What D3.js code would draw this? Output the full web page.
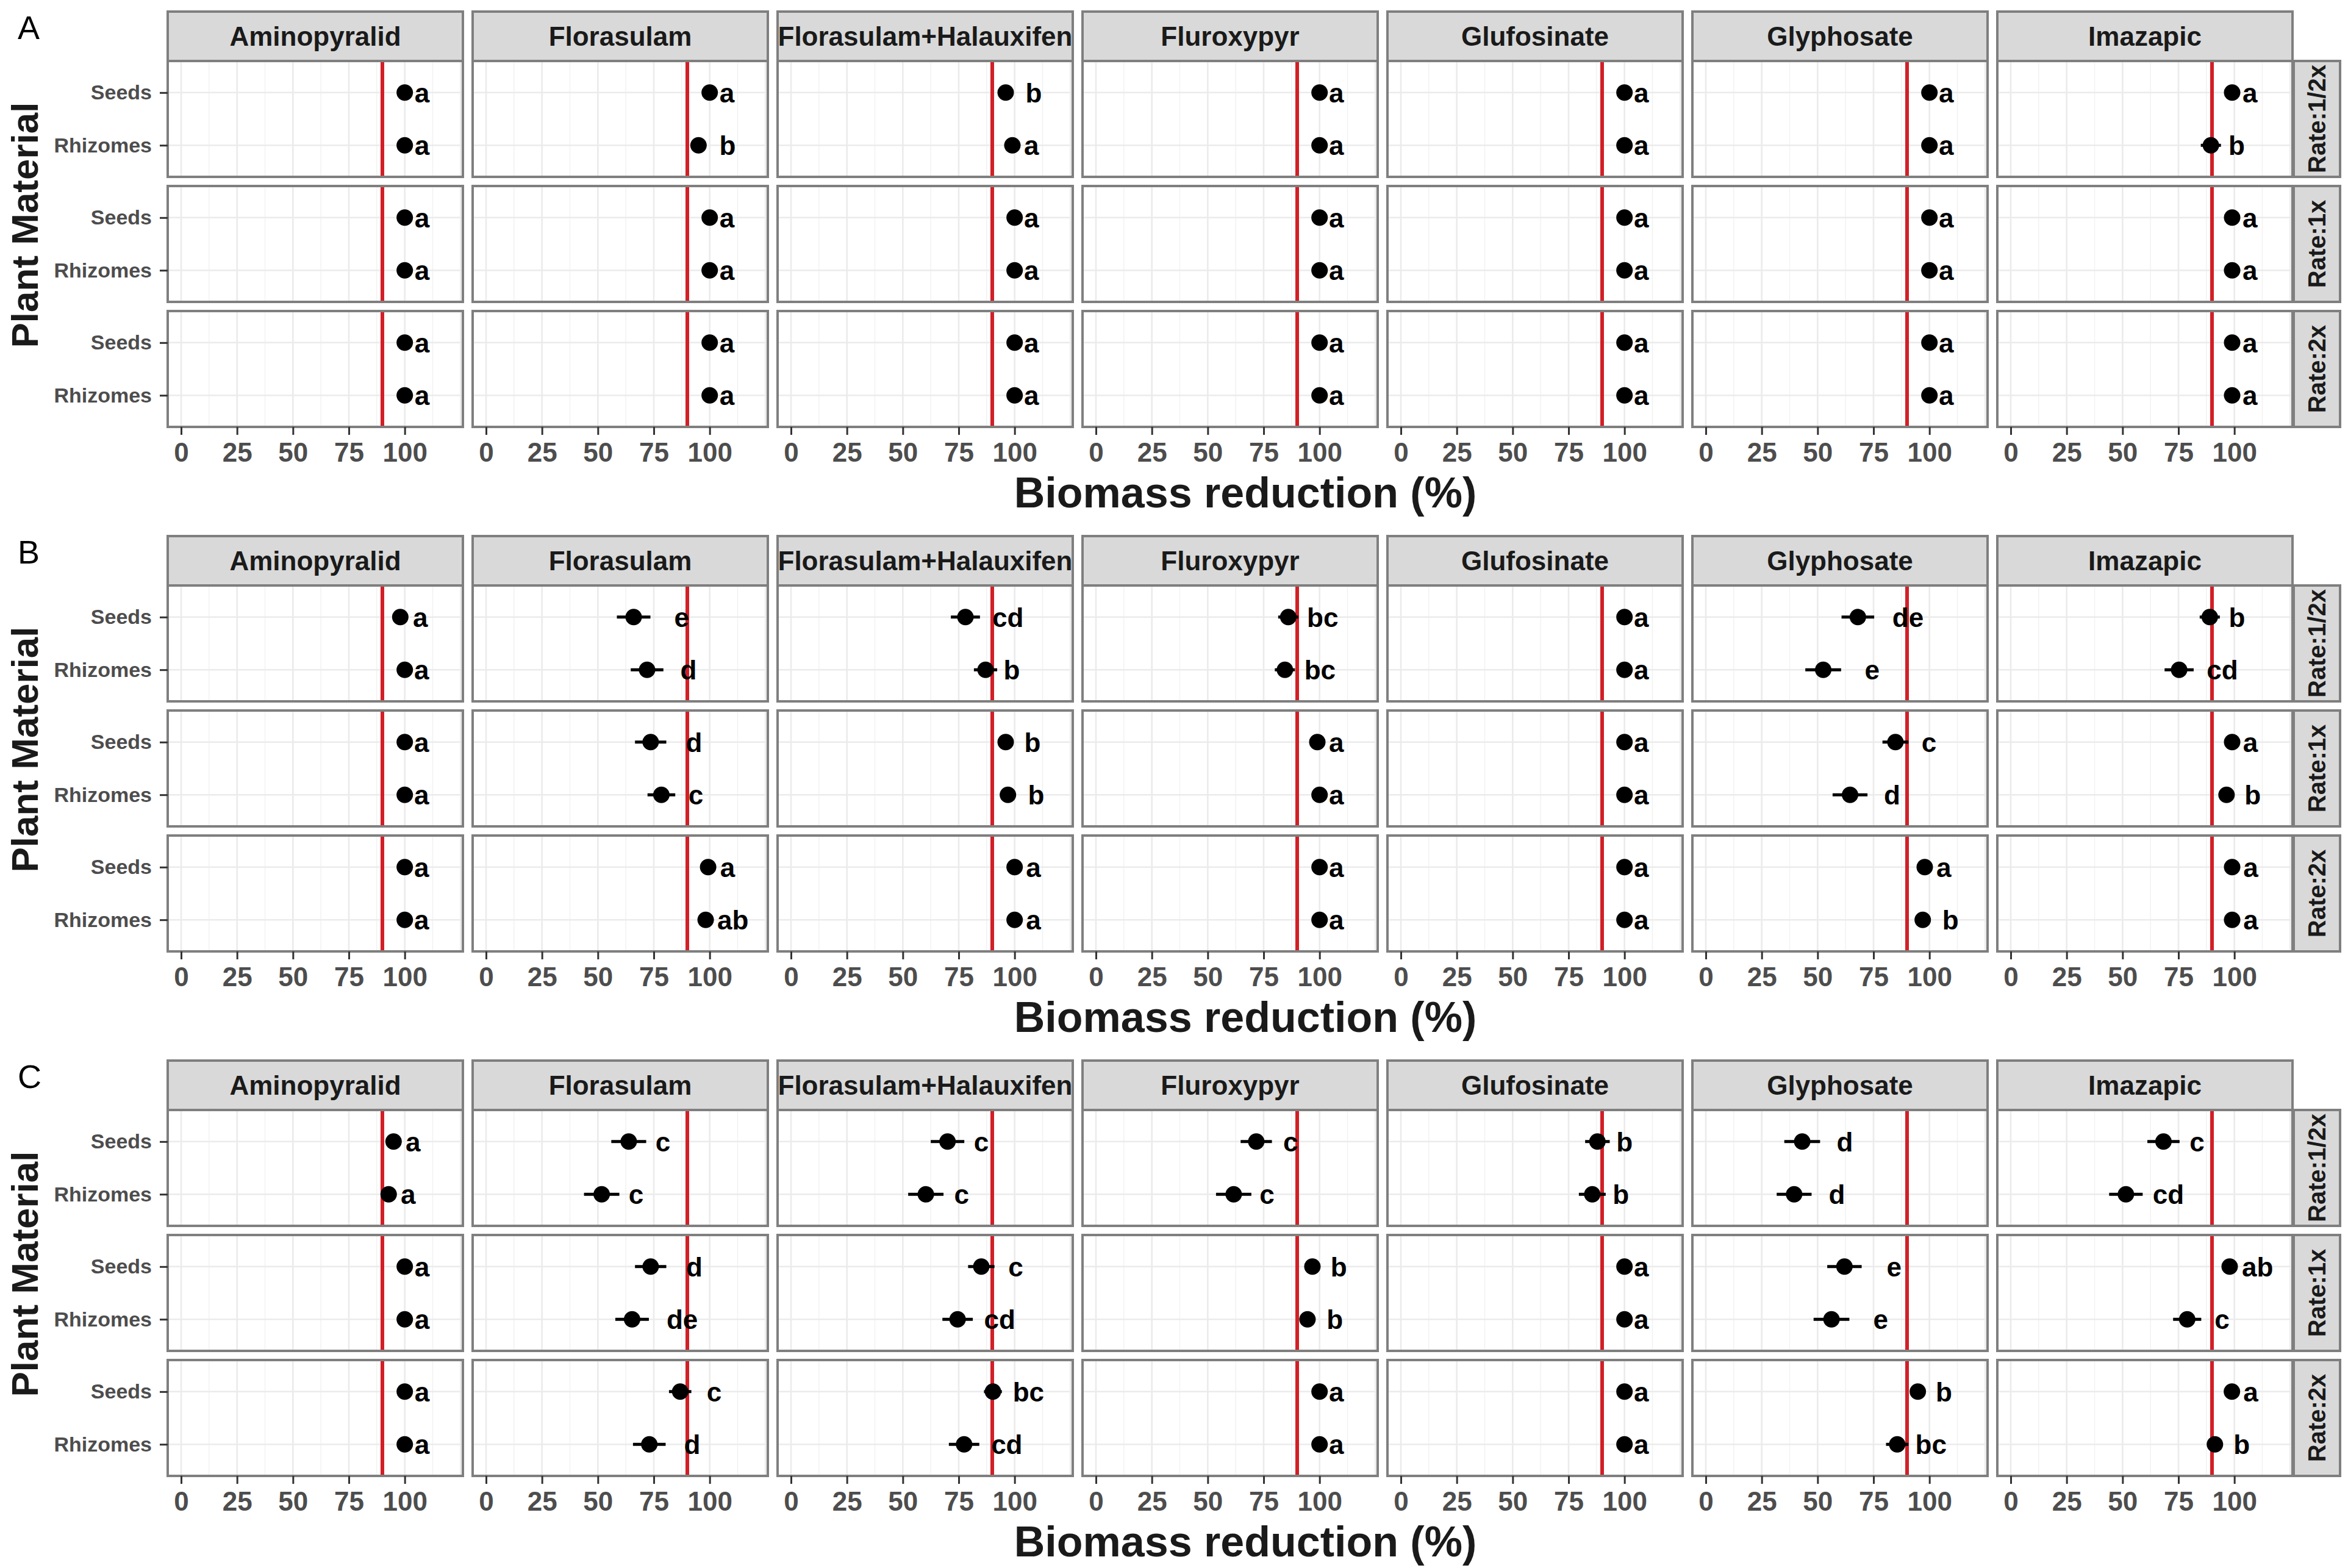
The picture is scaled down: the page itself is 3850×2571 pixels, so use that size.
<!DOCTYPE html>
<meta charset="utf-8">
<style>
  body { margin: 0; background: #fff; }
  svg { display: block; font-family: "Liberation Sans", Arial, sans-serif; }
  .grid-major { stroke: #ebebeb; stroke-width: 2.6; }
  .grid-minor { stroke: #f1f1f1; stroke-width: 1.4; }
  .border { fill: none; stroke: #7f7f7f; stroke-width: 4; }
  .strip rect { fill: #d9d9d9; stroke: #7f7f7f; stroke-width: 4; }
  .strip text { fill: #1a1a1a; }
  .axis path { display: none; }
  .axis line { stroke: #333; stroke-width: 3; }
  .axis text { fill: #4d4d4d; font-weight: bold; }
</style>
<body>
<svg id="chart" width="3850" height="2571"></svg>

<script src="https://d3js.org/d3.v7.min.js"></script>
<script>
var herbicides = ["Aminopyralid", "Florasulam", "Florasulam+Halauxifen", "Fluroxypyr", "Glufosinate", "Glyphosate", "Imazapic"];
var rates = ["Rate:1/2x", "Rate:1x", "Rate:2x"];
var materials = ["Seeds", "Rhizomes"];
var blockNames = ["A", "B", "C"];
var xTicks = [0, 25, 50, 75, 100];
var threshold = 90;

// every table: [rate][herbicide] -> [Seeds, Rhizomes]
var meanA = [
  [[100, 100], [100, 95], [96, 99], [100, 100], [100, 100], [100, 100], [99, 89.5]],
  [[100, 100], [100, 100], [100, 100], [100, 100], [100, 100], [100, 100], [99, 99]],
  [[100, 100], [100, 100], [100, 100], [100, 100], [100, 100], [100, 100], [99, 99]]
];
var seA = [
  [[0, 0], [0, 0], [0, 0], [0, 0], [0, 0], [0, 0], [0, 4.5]],
  [[0, 0], [0, 0], [0, 0], [0, 0], [0, 0], [0, 0], [0, 0]],
  [[0, 0], [0, 0], [0, 0], [0, 0], [0, 0], [0, 0], [0, 0]]
];
var letterA = [
  [["a", "a"], ["a", "b"], ["b", "a"], ["a", "a"], ["a", "a"], ["a", "a"], ["a", "b"]],
  [["a", "a"], ["a", "a"], ["a", "a"], ["a", "a"], ["a", "a"], ["a", "a"], ["a", "a"]],
  [["a", "a"], ["a", "a"], ["a", "a"], ["a", "a"], ["a", "a"], ["a", "a"], ["a", "a"]]
];
var labelA = [
  [[107.7, 107.7], [107.7, 108], [108.5, 107.5], [107.5, 107.5], [107.5, 107.5], [107.5, 107.5], [107, 101]],
  [[107.7, 107.7], [107.7, 107.7], [107.5, 107.5], [107.5, 107.5], [107.5, 107.5], [107.5, 107.5], [107, 107]],
  [[107.7, 107.7], [107.7, 107.7], [107.5, 107.5], [107.5, 107.5], [107.5, 107.5], [107.5, 107.5], [107, 107]]
];

var meanB = [
  [[98, 100], [66, 72], [78, 87], [86, 84.5], [100, 100], [68, 52.5], [89, 75.3]],
  [[100, 100], [73.6, 78.4], [96, 97], [99, 100], [100, 100], [84.8, 64.5], [99, 96.5]],
  [[100, 100], [99.3, 98.2], [100, 100], [100, 100], [100, 100], [97.9, 97], [99, 99]]
];
var seB = [
  [[0, 0], [7.5, 7.3], [6.5, 5.2], [4.5, 4.5], [0, 0], [7.3, 8], [4.5, 6.5]],
  [[0, 0], [7, 6.2], [0, 0], [0, 0], [0, 0], [5.8, 7.8], [0, 0]],
  [[0, 0], [0, 0], [0, 0], [0, 0], [0, 0], [0, 0], [0, 0]]
];
var letterB = [
  [["a", "a"], ["e", "d"], ["cd", "b"], ["bc", "bc"], ["a", "a"], ["de", "e"], ["b", "cd"]],
  [["a", "a"], ["d", "c"], ["b", "b"], ["a", "a"], ["a", "a"], ["c", "d"], ["a", "b"]],
  [["a", "a"], ["a", "ab"], ["a", "a"], ["a", "a"], ["a", "a"], ["a", "b"], ["a", "a"]]
];
var labelB = [
  [[107, 107.5], [87.5, 90.5], [97, 98.7], [101.4, 100.2], [107.5, 107.5], [90.4, 74.4], [101.2, 94.6]],
  [[107.5, 107.5], [93, 93.8], [108, 109.6], [107.5, 107.5], [107.5, 107.5], [99.8, 83.3], [107.2, 108.2]],
  [[107.5, 107.5], [108, 110.4], [108.4, 108.4], [107.5, 107.5], [107.5, 107.5], [106.4, 109.4], [107.3, 107.3]]
];

var meanC = [
  [[95, 92.8], [63.8, 51.7], [70, 60.3], [71.7, 61.6], [87.9, 85.6], [43.1, 39.5], [68.3, 51.5]],
  [[100, 100], [73.6, 65.3], [85.1, 74.5], [96.8, 94.6], [100, 100], [62, 56.2], [97.9, 78.9]],
  [[100, 100], [86.8, 73], [90.3, 77.4], [100, 100], [100, 100], [94.8, 85.6], [98.9, 91.3]]
];
var seC = [
  [[1, 1], [7.8, 7.9], [7.5, 7.9], [7, 7.9], [5.5, 6], [8, 7.8], [7.2, 7.5]],
  [[0, 0], [7, 7.5], [5.9, 6.8], [0, 1.5], [0, 0], [7.7, 8], [0, 6.3]],
  [[0, 0], [5, 7.3], [4, 6.8], [0, 0], [0, 0], [1, 5], [0, 2]]
];
var letterC = [
  [["a", "a"], ["c", "c"], ["c", "c"], ["c", "c"], ["b", "b"], ["d", "d"], ["c", "cd"]],
  [["a", "a"], ["d", "de"], ["c", "cd"], ["b", "b"], ["a", "a"], ["e", "e"], ["ab", "c"]],
  [["a", "a"], ["c", "d"], ["bc", "cd"], ["a", "a"], ["a", "a"], ["b", "bc"], ["a", "b"]]
];
var labelC = [
  [[103.7, 101.5], [79.1, 67.1], [85.1, 76.3], [87.1, 76.5], [100, 98.4], [62.2, 58.6], [83.3, 70.5]],
  [[107.7, 107.7], [93.1, 87.7], [100.5, 93.3], [108.6, 106.8], [107.5, 107.5], [84.2, 78.2], [110.4, 94.5]],
  [[107.7, 107.7], [102, 92.2], [106.2, 96.5], [107.5, 107.5], [107.5, 107.5], [106.5, 100.7], [107.3, 103.3]]
];

var blocks = [
  {name: blockNames[0], mean: meanA, se: seA, letter: letterA, label: labelA},
  {name: blockNames[1], mean: meanB, se: seB, letter: letterB, label: labelB},
  {name: blockNames[2], mean: meanC, se: seC, letter: letterC, label: labelC}
];

var svg = d3.select("#chart");
svg.append("rect").attr("width", 3850).attr("height", 2571).attr("fill", "#fff");

var blockTop = d3.scaleBand().domain(blockNames).range([19, 19 + 3 * 860]);
var stripH = 81;

var col = d3.scaleBand().domain(herbicides).range([275, 3759]).paddingInner(0.032);
var row = d3.scaleBand().domain(rates).range([stripH, stripH + 600]).paddingInner(15 / 205);

var x = d3.scaleLinear().domain([-6, 126]).range([0, col.bandwidth()]);
var y = d3.scalePoint().domain(materials).range([0, row.bandwidth()]).padding(0.6);

var majors = [0, 25, 50, 75, 100, 125];
var minors = [12.5, 37.5, 62.5, 87.5, 112.5];

var defs = svg.append("defs");
herbicides.forEach(function(h, j) {
  defs.append("clipPath").attr("id", "clip" + j)
    .append("rect").attr("width", col.bandwidth()).attr("height", stripH);
});

blocks.forEach(function(b) {
  var top = blockTop(b.name);
  var gb = svg.append("g").attr("transform", "translate(0," + top + ")");

  // block letter
  gb.append("text").attr("x", 29).attr("y", 45)
    .attr("font-size", 54).attr("fill", "#000").text(b.name);

  // strips on top
  herbicides.forEach(function(h, j) {
    var s = gb.append("g").attr("class", "strip")
      .attr("transform", "translate(" + col(h) + ",0)");
    s.append("rect").attr("width", col.bandwidth()).attr("height", stripH);
    s.append("g").attr("clip-path", "url(#clip" + j + ")")
      .append("text")
      .attr("x", col.bandwidth() / 2).attr("y", stripH / 2).attr("dy", "0.36em")
      .attr("text-anchor", "middle").attr("font-size", 44).attr("font-weight", "bold")
      .text(h);
  });

  rates.forEach(function(r, i) {
    herbicides.forEach(function(h, j) {
      var g = gb.append("g").attr("transform", "translate(" + col(h) + "," + row(r) + ")");
      var ph = row.bandwidth();
      g.append("rect").attr("width", col.bandwidth()).attr("height", ph).attr("fill", "#fff");

      g.selectAll(".grid-minor").data(minors).enter().append("line")
        .attr("class", "grid-minor")
        .attr("x1", x).attr("x2", x).attr("y1", 0).attr("y2", ph);
      g.selectAll(".grid-major").data(majors).enter().append("line")
        .attr("class", "grid-major")
        .attr("x1", x).attr("x2", x).attr("y1", 0).attr("y2", ph);
      g.selectAll(".grid-h").data(materials).enter().append("line")
        .attr("class", "grid-major")
        .attr("x1", 0).attr("x2", col.bandwidth())
        .attr("y1", y).attr("y2", y);

      g.append("line")
        .attr("x1", x(threshold)).attr("x2", x(threshold))
        .attr("y1", 0).attr("y2", ph)
        .attr("stroke", "#d21f26").attr("stroke-width", 6);

      var pts = materials.map(function(m, k) {
        return {
          m: m,
          v: b.mean[i][j][k],
          se: b.se[i][j][k],
          lab: b.letter[i][j][k],
          lx: b.label[i][j][k]
        };
      });

      g.selectAll(".err").data(pts.filter(function(d) { return d.se > 0; }))
        .enter().append("line")
        .attr("x1", function(d) { return x(d.v - d.se); })
        .attr("x2", function(d) { return x(d.v + d.se); })
        .attr("y1", function(d) { return y(d.m); })
        .attr("y2", function(d) { return y(d.m); })
        .attr("stroke", "#000").attr("stroke-width", 5);

      g.selectAll(".pt").data(pts).enter().append("circle")
        .attr("cx", function(d) { return x(d.v); })
        .attr("cy", function(d) { return y(d.m); })
        .attr("r", 13.5).attr("fill", "#000");

      g.selectAll(".lab").data(pts).enter().append("text")
        .attr("x", function(d) { return x(d.lx); })
        .attr("y", function(d) { return y(d.m); })
        .attr("dy", "0.36em")
        .attr("text-anchor", "middle")
        .attr("font-size", 44).attr("font-weight", "bold").attr("fill", "#000")
        .text(function(d) { return d.lab; });

      g.append("rect").attr("class", "border")
        .attr("width", col.bandwidth()).attr("height", ph);

      if (j === 0) {
        g.append("g").attr("class", "axis")
          .call(d3.axisLeft(y).tickSize(13).tickPadding(13))
          .selectAll("text").attr("font-size", 34);
      }
      if (i === rates.length - 1) {
        g.append("g").attr("class", "axis")
          .attr("transform", "translate(0," + ph + ")")
          .call(d3.axisBottom(x).tickValues(xTicks).tickSize(13).tickPadding(13))
          .selectAll("text").attr("font-size", 44);
      }
    });

    // strip on the right
    var rs = gb.append("g").attr("class", "strip")
      .attr("transform", "translate(" + (col.range()[1] + 2) + "," + row(r) + ")");
    rs.append("rect").attr("width", 76).attr("height", row.bandwidth());
    rs.append("text")
      .attr("transform", "translate(38," + row.bandwidth() / 2 + ") rotate(-90)")
      .attr("dy", "0.36em").attr("text-anchor", "middle")
      .attr("font-size", 40).attr("font-weight", "bold")
      .text(r);
  });

  // axis titles
  gb.append("text")
    .attr("x", 2042).attr("y", 813)
    .attr("text-anchor", "middle").attr("font-size", 70).attr("font-weight", "bold")
    .attr("fill", "#1a1a1a")
    .text("Biomass reduction (%)");

  gb.append("text")
    .attr("transform", "translate(62,350) rotate(-90)")
    .attr("text-anchor", "middle").attr("font-size", 62).attr("font-weight", "bold")
    .attr("fill", "#1a1a1a")
    .text("Plant Material");
});
</script>
</body>
